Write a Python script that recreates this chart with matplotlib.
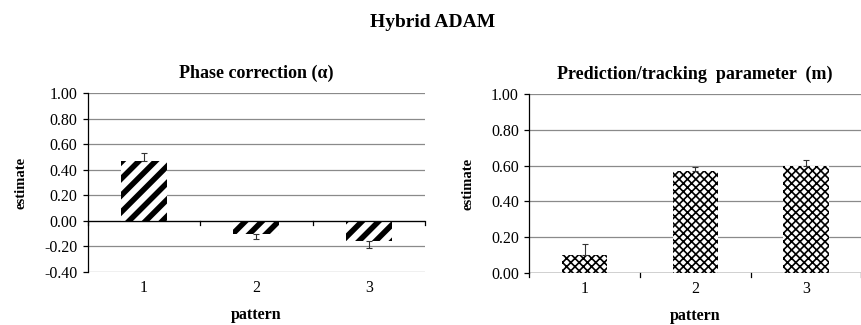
import numpy as np
import matplotlib.pyplot as plt

plt.rcParams['font.family'] = ['Liberation Serif', 'DejaVu Serif']

# data
patterns = ['1', '2', '3']
alpha_est = [0.47, -0.10, -0.16]
alpha_err = [0.06, 0.04, 0.05]
m_est = [0.10, 0.57, 0.60]
m_err = [0.06, 0.02, 0.03]

fig = plt.figure(figsize=(8.62, 3.25), dpi=100)
fig.text(0.502, 0.93, 'Hybrid ADAM', ha='center', va='center',
         fontsize=14, fontweight='bold')

ax1 = fig.add_axes([0.102, 0.163, 0.391, 0.551])
ax2 = fig.add_axes([0.614, 0.160, 0.385, 0.551])


def one_sided(vals, errs):
    lower = [e if v < 0 else 0 for v, e in zip(vals, errs)]
    upper = [e if v >= 0 else 0 for v, e in zip(vals, errs)]
    return [lower, upper]


def panel(ax, vals, errs, hatch, hlw, ylim, title):
    x = np.arange(1, len(vals) + 1)
    with plt.rc_context({'hatch.linewidth': hlw, 'hatch.color': 'black'}):
        ax.bar(x, vals, width=0.41, color='white', edgecolor='black',
               linewidth=0, hatch=hatch, zorder=2)
    ax.errorbar(x, vals, yerr=one_sided(vals, errs), fmt='none',
                ecolor='#333333', elinewidth=0.8, capsize=2.5, capthick=0.8,
                zorder=3)
    ax.set_xlim(0.5, len(vals) + 0.5)
    ax.set_ylim(*ylim)
    ax.set_yticks(np.arange(ylim[0], ylim[1] + 0.001, 0.2))
    ax.set_yticklabels([f'{t:.2f}' for t in ax.get_yticks()])
    ax.yaxis.grid(True, color='#8a8a8a', linewidth=0.9, zorder=0)
    ax.set_axisbelow(True)
    for s in ['top', 'right', 'bottom']:
        ax.spines[s].set_visible(False)
    ax.spines['left'].set_linewidth(0.9)
    ax.axhline(0, color='black', linewidth=0.9, zorder=4)
    # category boundary ticks on the zero line
    for b in np.arange(0.5, len(vals) + 1, 1.0):
        ax.plot([b, b], [0, -0.025 * (ylim[1] - ylim[0])], color='black',
                linewidth=0.9, clip_on=False, zorder=4)
    ax.set_xticks(x)
    ax.set_xticklabels(patterns)
    ax.tick_params(axis='x', length=0, pad=6, labelsize=11.5)
    ax.tick_params(axis='y', length=3.5, width=0.9, labelsize=11.5, pad=4)
    ax.set_xlabel('pattern', fontsize=11.5, fontweight='bold', labelpad=8)
    ax.set_ylabel('estimate', fontsize=10.5, fontweight='bold', labelpad=12)
    ax.set_title(title, fontsize=13, fontweight='bold', pad=11)


panel(ax1, alpha_est, alpha_err, '//', 4.0, (-0.4, 1.0), 'Phase correction (α)')
panel(ax2, m_est, m_err, 'xxxx', 1.2, (0.0, 1.0),
      'Prediction/tracking  parameter  (m)')

fig.savefig('out.png', dpi=100)
